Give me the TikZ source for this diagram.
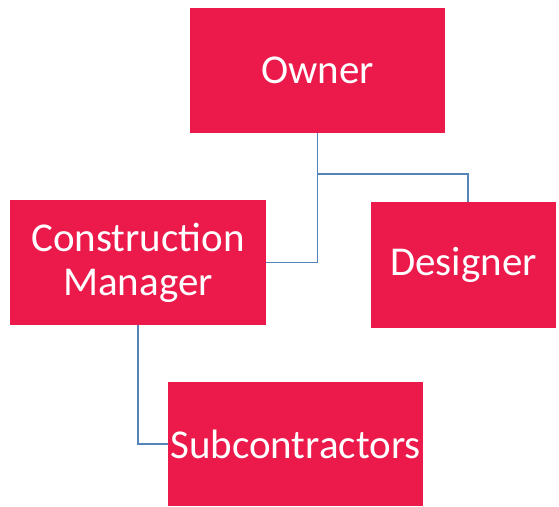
\documentclass[tikz,border=0pt]{standalone}
\usepackage{fontspec}
\setmainfont{Carlito}
\definecolor{boxred}{HTML}{EC194B}
\definecolor{linkblue}{HTML}{5585B8}
\tikzset{
  rolebox/.style={rectangle, fill=boxred, text=white, inner sep=0pt, align=center,
    font=\fontsize{41}{44}\selectfont},
  link/.style={draw=linkblue, line width=1.9pt}
}
\begin{document}
\begin{tikzpicture}[x=1pt, y=-1pt]
            \useasboundingbox (0,0) rectangle (559,506);
            \node[rolebox, minimum width=255, minimum height=125] (owner) at (317.5,70.5) {Owner};
            \node[rolebox, minimum width=256, minimum height=125] (manager) at (138,262.5) {Construction\\Manager};
            \node[rolebox, minimum width=185, minimum height=126] (designer) at (463.5,265) {Designer};
            \node[rolebox, minimum width=255, minimum height=124] (subs) at (295.5,444) {Subcontractors};
            \coordinate (split) at (owner.south |- 0,174); % Verzweigung
            \draw[link] (owner.south) -- (split) -| ([xshift=4.5pt]designer.north);
            \draw[link] (split) |- (manager.east);
            \draw[link] (manager.south) |- (subs.west);
        \end{tikzpicture}
\end{document}
